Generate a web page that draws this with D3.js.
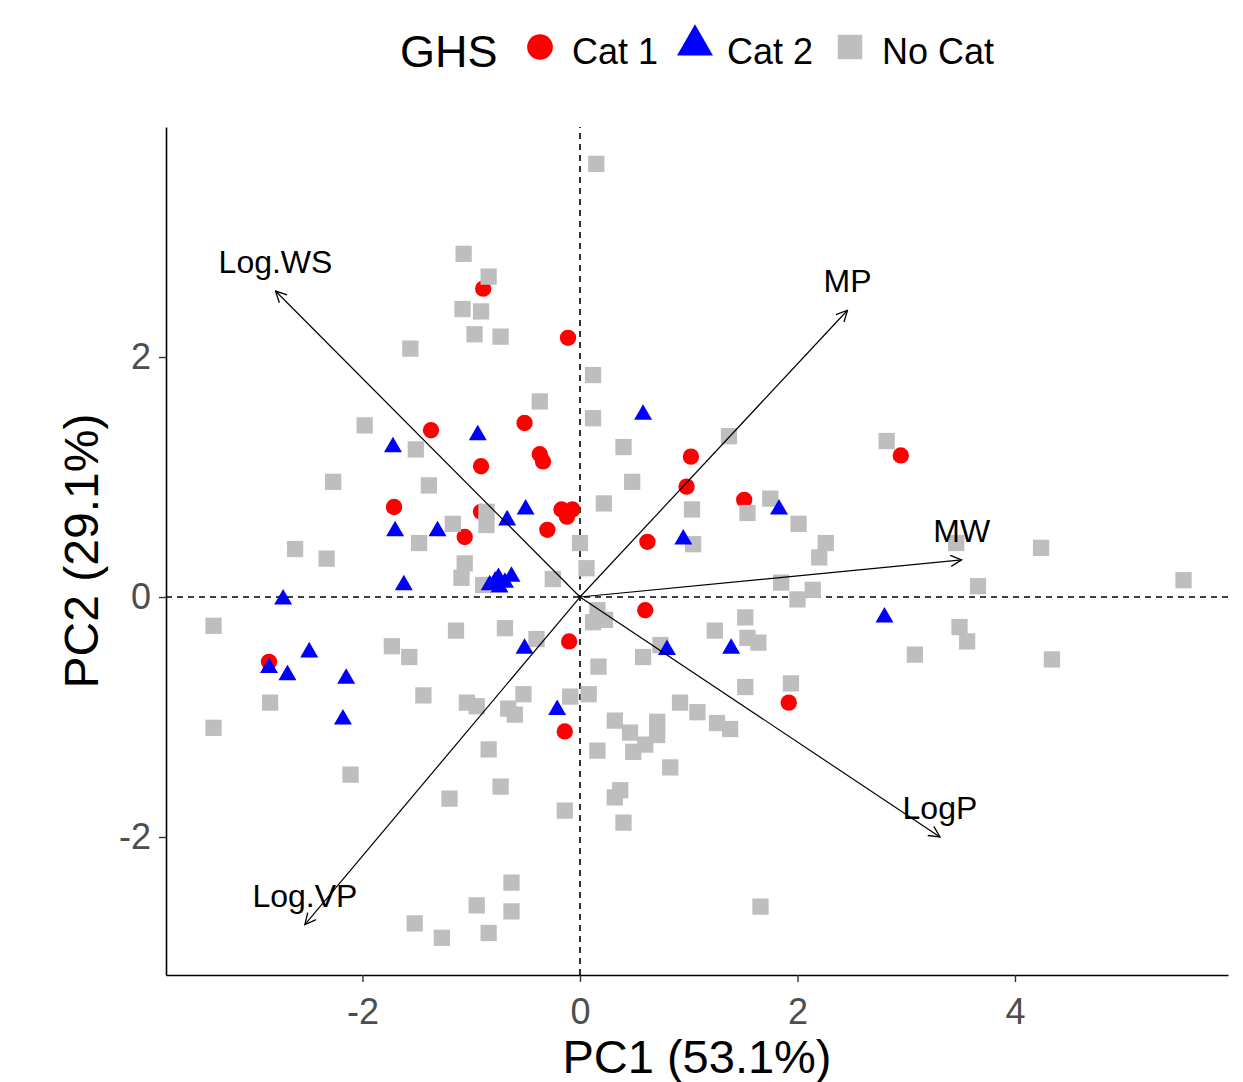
<!DOCTYPE html>
<html lang="en">
<head>
<meta charset="UTF-8">
<title>PCA biplot - GHS</title>
<script src="https://d3js.org/d3.v7.min.js"></script>
<style>
  body { margin: 0; background: #fff; }
  svg { display: block; font-family: "Liberation Sans", Arial, sans-serif; }
</style>
</head>
<body>
<script>
// individual scores [PC1, PC2]
const cat1 = [
  [-0.89, 2.57], [-0.11, 2.16], [-1.37, 1.39], [-0.51, 1.45], [-0.37, 1.19], [-0.34, 1.13],
  [-0.91, 1.09], [-1.71, 0.75], [-0.91, 0.71], [-0.17, 0.73], [-0.07, 0.73], [-0.12, 0.67],
  [-0.30, 0.56], [-1.06, 0.50], [1.02, 1.17], [0.98, 0.92], [1.51, 0.81], [0.62, 0.46],
  [2.95, 1.18], [0.60, -0.11], [-0.10, -0.37], [-2.86, -0.54], [-0.14, -1.12], [1.92, -0.88]
];
const cat2 = [
  [-1.72, 1.25], [-0.94, 1.35], [0.58, 1.52], [-0.50, 0.73], [-0.67, 0.64], [-1.70, 0.55],
  [-1.31, 0.55], [-1.62, 0.10], [-2.73, -0.02], [-0.83, 0.10], [-0.75, 0.16], [-0.69, 0.12],
  [-0.63, 0.17], [-0.74, 0.08], [-0.78, 0.13], [0.95, 0.48], [1.83, 0.73], [2.80, -0.17],
  [1.39, -0.43], [0.80, -0.44], [-0.51, -0.43], [-2.49, -0.46], [-2.86, -0.59], [-2.69, -0.65],
  [-2.15, -0.68], [-2.18, -1.02], [-0.21, -0.94]
];
const noCat = [
  [0.15, 3.61], [-1.07, 2.86], [-0.84, 2.67], [-1.08, 2.40], [-0.91, 2.38], [-0.97, 2.19],
  [-0.73, 2.17], [-1.56, 2.07], [0.12, 1.85], [-0.37, 1.63], [0.12, 1.49], [-1.98, 1.43],
  [-1.51, 1.23], [0.40, 1.25], [1.37, 1.34], [2.82, 1.30], [-2.27, 0.96], [-1.39, 0.93],
  [0.48, 0.96], [0.22, 0.78], [1.75, 0.82], [1.03, 0.73], [1.54, 0.70], [-0.86, 0.71],
  [-0.86, 0.60], [-1.17, 0.61], [2.01, 0.61], [-2.62, 0.40], [-2.33, 0.32], [-1.48, 0.45],
  [-1.06, 0.28], [-1.09, 0.16], [0.00, 0.45], [0.06, 0.24], [-0.25, 0.15], [-0.89, 0.10],
  [1.04, 0.44], [2.26, 0.45], [2.20, 0.33], [3.46, 0.45], [4.24, 0.41], [1.85, 0.12],
  [2.14, 0.06], [2.00, -0.02], [3.66, 0.09], [5.55, 0.14], [0.16, -0.11], [0.23, -0.19],
  [0.12, -0.21], [-3.37, -0.24], [-1.14, -0.28], [-0.69, -0.26], [-0.40, -0.35], [-1.73, -0.41],
  [-1.57, -0.50], [0.74, -0.40], [0.58, -0.50], [1.24, -0.28], [1.52, -0.17], [1.54, -0.34],
  [1.64, -0.38], [3.49, -0.25], [3.56, -0.37], [3.08, -0.48], [4.34, -0.52], [0.17, -0.58],
  [1.52, -0.75], [1.94, -0.72], [-1.44, -0.82], [-1.04, -0.88], [-0.95, -0.91], [-0.52, -0.81],
  [-0.66, -0.93], [-0.60, -0.98], [-0.09, -0.83], [0.08, -0.81], [-2.85, -0.88], [0.92, -0.88],
  [1.08, -0.96], [1.26, -1.05], [1.38, -1.10], [-3.37, -1.09], [0.32, -1.03], [0.46, -1.13],
  [0.60, -1.23], [0.49, -1.29], [0.71, -1.04], [0.71, -1.15], [0.16, -1.28], [-0.84, -1.27],
  [0.83, -1.42], [-2.11, -1.48], [-0.73, -1.58], [-1.20, -1.68], [0.37, -1.61], [0.32, -1.67],
  [-0.14, -1.78], [0.40, -1.88], [-0.63, -2.38], [-0.95, -2.57], [-0.63, -2.62], [-1.52, -2.72],
  [-0.84, -2.80], [-1.27, -2.84], [1.66, -2.58]
];

// variable loadings (arrows)
const varNames = ["Log.WS", "MP", "MW", "LogP", "Log.VP"];
const varPC1 = [-2.80, 2.46, 3.51, 3.31, -2.53];
const varPC2 = [2.55, 2.39, 0.31, -2.00, -2.73];

const xTicks = [-2, 0, 2, 4];
const yTicks = [-2, 0, 2];
const groupNames = ["Cat 1", "Cat 2", "No Cat"];
const groupColors = ["#FF0000", "#0000FF", "#BEBEBE"];
const groupShapes = [d3.symbolCircle, d3.symbolTriangle, d3.symbolSquare];

const width = 1243, height = 1082;
const margin = {top: 127, right: 15, bottom: 107, left: 166};

const svg = d3.select("body").append("svg")
  .attr("width", width)
  .attr("height", height);

const x = d3.scaleLinear().domain([-3.807, 5.959]).range([margin.left, width - margin.right]);
const y = d3.scaleLinear().domain([-3.15, 3.917]).range([height - margin.bottom, margin.top]);

// zero reference lines
svg.append("line")
  .attr("x1", x.range()[0]).attr("x2", x.range()[1])
  .attr("y1", y(0)).attr("y2", y(0))
  .attr("stroke", "black").attr("stroke-width", 1.6).attr("stroke-dasharray", "6,5");
svg.append("line")
  .attr("x1", x(0)).attr("x2", x(0))
  .attr("y1", y.range()[0]).attr("y2", y.range()[1])
  .attr("stroke", "black").attr("stroke-width", 1.6).attr("stroke-dasharray", "6,5");

// points: red, grey, then blue on top
const drawOrder = [0, 2, 1];
const pointSizes = [210, 140, 265];
const allGroups = [cat1, cat2, noCat];
drawOrder.forEach(g => {
  svg.append("g").selectAll("path")
    .data(allGroups[g])
    .enter()
    .append("path")
    .attr("transform", d => `translate(${x(d[0])},${y(d[1])})`)
    .attr("d", d3.symbol().type(groupShapes[g]).size(pointSizes[g]))
    .attr("fill", groupColors[g]);
});

// arrows
svg.append("defs").append("marker")
  .attr("id", "head")
  .attr("viewBox", "-1 -7 13 14")
  .attr("refX", 11).attr("refY", 0)
  .attr("markerWidth", 13).attr("markerHeight", 14)
  .attr("markerUnits", "userSpaceOnUse")
  .attr("orient", "auto")
  .append("path")
  .attr("d", "M0,-5.5L11,0L0,5.5")
  .attr("fill", "none")
  .attr("stroke", "black")
  .attr("stroke-width", 1.3);

const arrows = svg.append("g");
varNames.forEach((name, i) => {
  arrows.append("line")
    .attr("x1", x(0)).attr("y1", y(0))
    .attr("x2", x(varPC1[i])).attr("y2", y(varPC2[i]))
    .attr("stroke", "black")
    .attr("stroke-width", 1.2)
    .attr("marker-end", "url(#head)");
  arrows.append("text")
    .attr("x", x(varPC1[i]))
    .attr("y", y(varPC2[i]) - 18)
    .attr("text-anchor", "middle")
    .attr("font-size", 32)
    .attr("fill", "black")
    .text(name);
});

// axes
const xAxis = d3.axisBottom(x).tickValues(xTicks).tickSize(7).tickSizeOuter(0).tickPadding(16)
  .tickFormat(d3.format("d"));
const gx = svg.append("g")
  .attr("transform", `translate(0,${height - margin.bottom})`)
  .call(xAxis);
const yAxis = d3.axisLeft(y).tickValues(yTicks).tickSize(7).tickSizeOuter(0).tickPadding(8)
  .tickFormat(d3.format("d"));
const gy = svg.append("g")
  .attr("transform", `translate(${margin.left},0)`)
  .call(yAxis);

[gx, gy].forEach(g => {
  g.select(".domain").attr("stroke", "black").attr("stroke-width", 1.6);
  g.selectAll(".tick line").attr("stroke", "#333").attr("stroke-width", 1.4);
  g.selectAll(".tick text")
    .attr("fill", "#4D4D4D")
    .attr("font-size", 36)
    .attr("font-family", "'Liberation Sans', Arial, sans-serif")
    .text(d => d < 0 ? "-" + Math.abs(d) : d);
});

// axis titles
svg.append("text")
  .attr("x", (x.range()[0] + x.range()[1]) / 2)
  .attr("y", 1073)
  .attr("text-anchor", "middle")
  .attr("font-size", 47)
  .text("PC1 (53.1%)");
svg.append("text")
  .attr("transform", `translate(98,${(y.range()[0] + y.range()[1]) / 2}) rotate(-90)`)
  .attr("text-anchor", "middle")
  .attr("font-size", 48)
  .text("PC2 (29.1%)");

// legend on top
const legend = svg.append("g");
legend.append("text")
  .attr("x", 400).attr("y", 67)
  .attr("font-size", 45)
  .text("GHS");
const legendX = [540, 695, 850];
const legendSizes = [520, 560, 600];
groupNames.forEach((name, i) => {
  legend.append("path")
    .attr("transform", `translate(${legendX[i]},${i === 1 ? 45 : 47})`)
    .attr("d", d3.symbol().type(groupShapes[i]).size(legendSizes[i]))
    .attr("fill", groupColors[i]);
  legend.append("text")
    .attr("x", legendX[i] + 32).attr("y", 64)
    .attr("font-size", 36)
    .text(name);
});
</script>
</body>
</html>
